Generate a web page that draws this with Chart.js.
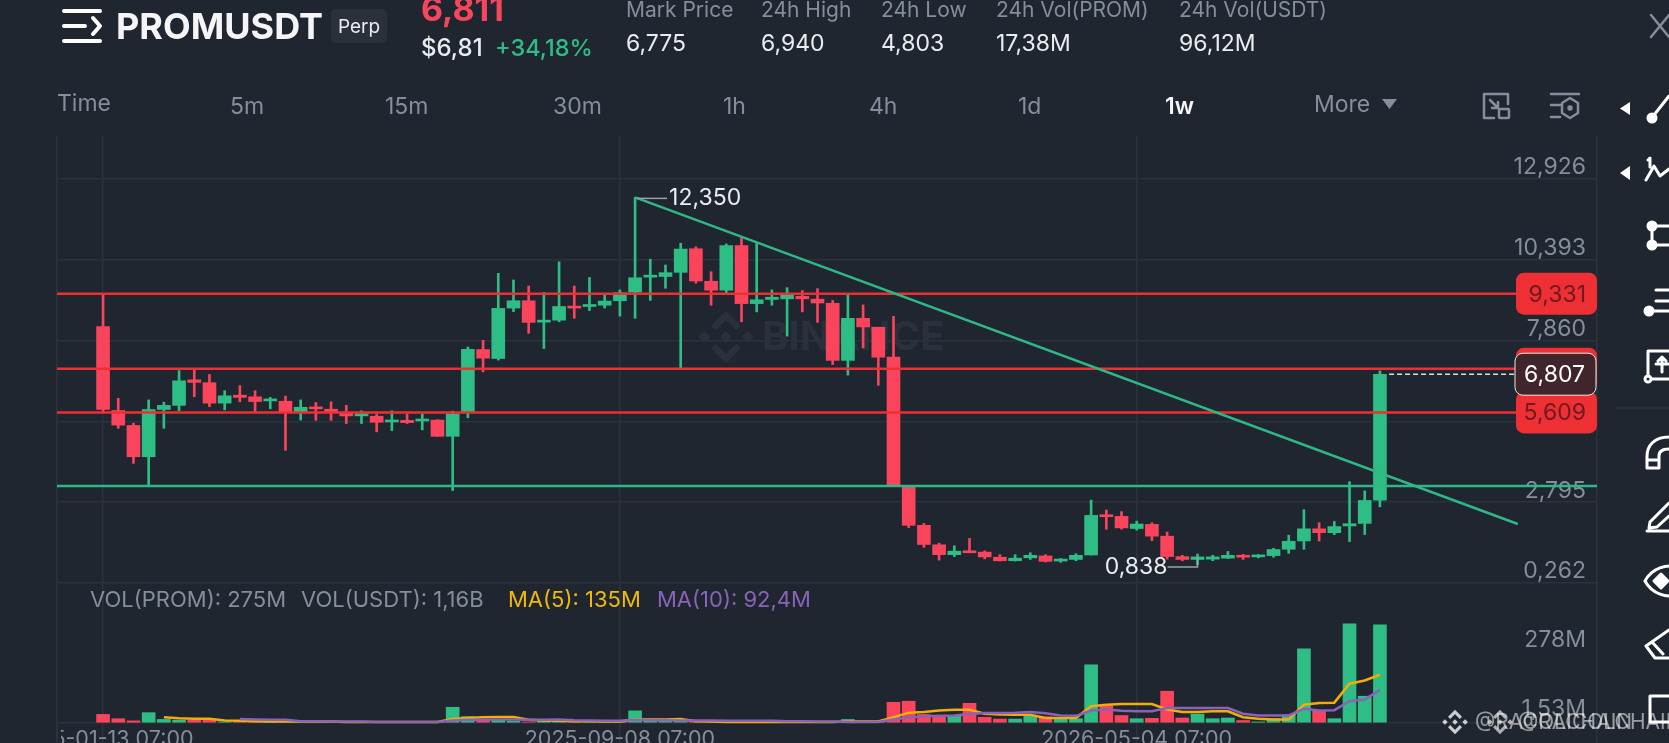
<!DOCTYPE html>
<html>
<head>
<meta charset="utf-8">
<title>PROMUSDT</title>
<script src="https://cdn.jsdelivr.net/npm/chart.js@4"></script>
<style>
  html, body { margin: 0; padding: 0; background: #1f2630; overflow: hidden; }
  #wrap { position: relative; width: 1669px; height: 743px; overflow: hidden; font-family: Inter, sans-serif; }
  #myChart { position: absolute; left: 0; top: 0; }
  #leftMask { position: absolute; left: 0; top: 726px; width: 61px; height: 17px; background: #1f2630; }
  #leftEdge { position: absolute; left: 56px; top: 726px; width: 2px; height: 17px; background: #2b323d; }
  #icons { position: absolute; left: 0; top: 0; }
  .t { position: absolute; transform: translateY(-50%); white-space: nowrap; font-size: 21px; line-height: 1; color: #848e9c; }
  .w { color: #eaecef; font-size: 23px; }
  .tab { font-size: 23px; }
  .vol { font-size: 22px; }
</style>
</head>
<body>
<div id="wrap">
  <canvas id="myChart" width="1669" height="770"></canvas>
  <div id="leftMask"></div>
  <div id="leftEdge"></div>

  <span class="t" style="left:116px;top:26px;font-size:36px;font-weight:700;color:#f5f5f5">PROMUSDT</span>
  <div style="position:absolute;left:331px;top:9px;width:56px;height:34px;border-radius:5px;background:#2a313b"></div>
  <span class="t w" style="left:338px;top:26px;font-size:19px">Perp</span>
  <span class="t" style="left:421px;top:9px;font-size:34px;font-weight:700;color:#f6465d">6,811</span>
  <span class="t w" style="left:421px;top:48px;font-size:24px;font-weight:500">$6,81</span>
  <span class="t" style="left:495px;top:48px;font-size:23.5px;font-weight:500;color:#2ebd85">+34,18%</span>
  <span class="t" style="left:626px;top:9px">Mark Price</span>
  <span class="t w" style="left:626px;top:43px">6,775</span>
  <span class="t" style="left:761px;top:9px">24h High</span>
  <span class="t w" style="left:761px;top:43px">6,940</span>
  <span class="t" style="left:881px;top:9px">24h Low</span>
  <span class="t w" style="left:881px;top:43px">4,803</span>
  <span class="t" style="left:996px;top:9px">24h Vol(PROM)</span>
  <span class="t w" style="left:996px;top:43px">17,38M</span>
  <span class="t" style="left:1179px;top:9px">24h Vol(USDT)</span>
  <span class="t w" style="left:1179px;top:43px">96,12M</span>

  <span class="t tab" style="left:57px;top:103px">Time</span>
  <span class="t tab" style="left:230px;top:106px">5m</span>
  <span class="t tab" style="left:385px;top:106px">15m</span>
  <span class="t tab" style="left:553px;top:106px">30m</span>
  <span class="t tab" style="left:723px;top:106px">1h</span>
  <span class="t tab" style="left:869px;top:106px">4h</span>
  <span class="t tab" style="left:1018px;top:106px">1d</span>
  <span class="t tab" style="left:1165px;top:106px;font-weight:600;color:#f5f5f5">1w</span>
  <span class="t tab" style="left:1314px;top:104px">More</span>

  <span class="t vol" style="left:90px;top:599px">VOL(PROM): 275M</span>
  <span class="t vol" style="left:301px;top:599px">VOL(USDT): 1,16B</span>
  <span class="t vol" style="left:508px;top:599px;color:#f0b90b">MA(5): 135M</span>
  <span class="t vol" style="left:657px;top:599px;color:#8a63b8">MA(10): 92,4M</span>

  <svg id="icons" width="1669" height="743" fill="none" stroke-linecap="round" stroke-linejoin="round">
    <g stroke="#ffffff" stroke-width="4">
      <path d="M64 11H100M64 26H85M64 41H100M93 18l7 8-7 8"/>
    </g>
    <path d="M1651 15l18 22M1669 15l-18 22" stroke="#848e9c" stroke-width="2.5"/>
    <polygon points="1382,99 1397,99 1389.5,109" fill="#848e9c"/>
    <g stroke="#848e9c" stroke-width="2.5">
      <path d="M1508 104V94H1484V118H1494M1490 100l8 8M1498 102v6h-6"/>
      <rect x="1499" y="109" width="10" height="9" rx="1"/>
      <path d="M1551 94H1579M1551 105H1560M1551 117H1560"/>
      <path d="M1570 98l8 5v10l-8 5-8-5v-10z"/>
      <circle cx="1570" cy="108" r="1.5" fill="#848e9c"/>
    </g>
    <polygon points="1630,102 1620,108.5 1630,115" fill="#ffffff"/>
    <polygon points="1630,166 1620,173 1630,180" fill="#ffffff"/>
    <path d="M1616 408H1669" stroke="#2b3139" stroke-width="2"/>
    <g stroke="#ffffff" stroke-width="3">
      <circle cx="1652" cy="118" r="4" fill="#ffffff"/><path d="M1654 115L1669 96"/>
      <path d="M1648 160l2-2v9M1646 180l8-14 6 10 9-7"/>
      <circle cx="1652" cy="226" r="4" fill="#ffffff"/><circle cx="1652" cy="245" r="4" fill="#ffffff"/>
      <path d="M1652 226v19M1656 226H1669M1656 245H1669"/>
      <path d="M1656 290H1669M1656 301H1669M1653 311H1669"/><circle cx="1649" cy="311" r="4" fill="#ffffff"/>
      <path d="M1669 351H1648V376M1656 364H1669M1662 372V357l-4 4M1662 357l4 4M1652 379H1669"/><circle cx="1648" cy="379" r="3"/>
      <path d="M1669 437C1654 437 1647 446 1647 456V468H1659V456C1659 451 1663 449 1669 449M1647 460H1659"/>
      <path d="M1647 531H1669M1650 522l19-19M1650 522l-1 6 8-1 12-11"/>
      <path d="M1645 581C1653 566 1669 566 1669 566M1645 581C1653 596 1669 596 1669 596"/>
      <path d="M1661 574l7 7-7 7-7-7z" fill="#ffffff"/>
      <path d="M1669 630L1646 646l9 12H1669M1652 642l11 12"/>
      <path d="M1669 696H1650V722H1669"/>
    </g>
  </svg>
</div>

<script>
// weekly candles
const indexes = [];
for (let i = 0; i < 85; i++) indexes.push(i);

const opens = [8.30,5.67,5.20,4.22,5.70,5.83,6.63,6.54,5.90,6.15,6.10,5.97,5.96,5.60,5.78,5.71,5.60,5.50,5.49,5.31,5.36,5.34,5.37,
  4.86,5.60,7.58,7.30,8.88,9.11,8.44,8.50,8.93,8.93,8.97,9.11,9.38,9.85,9.87,10.00,10.74,9.72,9.44,10.84,9.02,9.15,9.17,
  9.25,9.16,9.03,7.24,8.56,8.28,7.34,3.30,2.07,1.46,1.15,1.26,1.23,1.07,0.96,1.05,1.11,0.95,1.00,1.14,2.38,2.35,1.97,2.10,
  1.73,1.09,1.00,1.01,1.04,1.13,1.08,1.12,1.32,1.58,1.96,1.84,2.05,2.13,2.86];
const closes = [5.70,5.21,4.22,5.70,5.83,6.60,6.55,5.90,6.13,6.08,5.95,6.02,5.60,5.77,5.72,5.60,5.50,5.57,5.30,5.36,5.29,5.40,4.86,
  5.56,7.59,7.31,8.87,9.11,8.43,8.50,8.93,8.88,8.97,9.10,9.36,9.83,9.91,9.99,10.73,9.73,9.44,10.84,9.02,9.14,9.22,9.28,
  9.17,9.04,7.24,8.56,8.29,7.34,3.31,2.07,1.47,1.15,1.26,1.21,1.08,0.96,1.04,1.13,0.94,0.99,1.13,2.38,2.34,1.99,2.11,1.73,
  1.09,1.00,1.08,1.08,1.13,1.07,1.12,1.31,1.57,1.96,1.84,2.03,2.12,2.85,6.807];
const highs = [9.31,6.05,5.27,6.00,5.93,6.92,6.94,6.80,6.29,6.45,6.29,6.08,6.12,6.00,5.92,5.94,5.83,5.66,5.56,5.66,5.56,5.56,5.38,
  5.65,7.66,7.87,9.97,9.76,9.57,9.37,10.33,9.57,9.84,9.34,9.45,12.35,10.41,10.23,10.91,10.80,10.02,10.89,11.08,10.93,9.45,9.52,
  9.43,9.49,9.12,9.29,8.98,8.28,8.62,3.31,2.13,1.51,1.43,1.66,1.27,1.15,1.15,1.21,1.15,1.03,1.18,2.86,2.55,2.50,2.20,2.15,
  1.86,1.13,1.17,1.13,1.25,1.16,1.15,1.35,1.76,2.56,2.15,2.19,3.44,3.15,6.91];
const lows = [5.60,5.11,4.01,3.31,5.11,5.66,6.10,5.79,5.69,5.94,5.60,5.72,4.42,5.37,5.36,5.36,5.26,5.26,5.00,5.04,5.26,5.06,4.86,
  3.16,5.44,6.88,7.25,8.77,8.09,7.61,8.45,8.56,8.80,8.88,8.63,8.56,9.12,9.50,7.01,9.66,8.97,9.36,8.45,8.76,8.97,8.00,
  8.76,8.43,7.11,6.78,7.63,6.46,3.30,2.00,1.38,0.98,1.09,1.21,1.02,0.95,0.95,1.00,0.92,0.91,0.96,1.14,1.95,1.95,1.92,1.59,
  1.01,0.96,0.838,0.96,1.03,1.00,1.05,1.07,1.19,1.32,1.58,1.78,1.56,1.78,2.65];

// volume in millions
const volumes = [24,12,6,29,10,8,8,8,3,3,3,2,10,3,3,2,2,2,2,2,2,2,3,44,18,10,10,5,3,6,6,3,3,3,3,34,5,5,6,5,3,3,3,3,3,3,3,3,4,10,
  3,4,58,61,24,17,20,55,16,11,11,21,17,12,12,163,49,21,12,13,89,14,25,12,14,7,3,12,23,208,35,12,278,75,275];
const ma5 = [null,null,null,null,16,13,12,12,7,6,5,4,4,4,4,4,3,3,3,3,3,3,3,11,14,16,17,17,9,7,6,5,5,4,4,10,10,10,11,5,4,3,3,3,3,3,3,3,3,4,
  4,4,16,29,31,35,37,37,26,24,23,23,14,14,14,47,51,53,53,53,38,31,31,33,33,16,12,10,10,51,56,57,110,119,135];
const ma10 = [null,null,null,null,null,null,null,null,null,11,10,9,9,5,5,4,4,4,3,3,3,3,3,7,9,9,10,10,9,9,10,8,7,6,6,9,8,8,7,7,7,6,6,6,6,5,5,4,4,3,
  3,3,10,16,18,20,21,25,28,28,29,31,27,21,20,35,38,34,33,33,42,42,42,42,42,26,21,21,21,40,35,36,61,66,92];

const priceTicks = [12.926, 10.393, 7.860, 5.327, 2.795, 0.262];
const volTicks = [278, 1.53];
const volTickLabels = ['278M', '1,53M'];
const dateTicks = [0, 34, 68];
const dateLabels = ['2025-01-13 07:00', '2025-09-08 07:00', '2026-05-04 07:00'];

const redLevels = [9.331, 6.979, 5.609];
const greenLevel = 3.30;
const lastPrice = 6.807;
const trendX = [35, 93.07];
const trendY = [12.35, 2.11];

const xMin = -3.03, xMax = 98.28;
const UP = '#2ebd85', DOWN = '#fa445c', LEVEL = '#ee2f33', GRID = '#2b323d', TEXT = '#848e9c';
const FONT = 'Inter, sans-serif';

const candleColor = indexes.map(i => closes[i] >= opens[i] ? UP : DOWN);

function bars(label, axis, rows, thickness, order, minLen) {
  return {
    type: 'bar', label, yAxisID: axis, data: rows, order,
    backgroundColor: candleColor, barThickness: thickness, grouped: false, minBarLength: minLen || 0
  };
}
function line(label, axis, rows, color, width, order, dash) {
  return {
    type: 'line', label, yAxisID: axis, data: rows, order,
    borderColor: color, borderWidth: width, pointRadius: 0, borderDash: dash || [], tension: 0
  };
}
function flat(y, x0, x1) {
  return [{ x: x0, y }, { x: x1, y }];
}

const datasets = [
  bars('wick', 'y', indexes.map(i => ({ x: i, y: [lows[i], highs[i]] })), 2, 5),
  bars('body', 'y', indexes.map(i => ({ x: i, y: [opens[i], closes[i]] })), 13, 4, 2),
  bars('volume', 'yVol', indexes.map(i => ({ x: i, y: volumes[i] })), 13, 4),
  line('MA5', 'yVol', indexes.map(i => ({ x: i, y: ma5[i] })), '#f0ad0b', 2.5, 2),
  line('MA10', 'yVol', indexes.map(i => ({ x: i, y: ma10[i] })), '#8a63b8', 2.5, 1),
  line('trend', 'y', trendX.map((x, k) => ({ x, y: trendY[k] })), '#2fb885', 2.5, 0),
  line('support', 'y', flat(greenLevel, xMin, xMax), '#2fb885', 2.5, 0),
  line('last', 'y', flat(lastPrice, 84.6, 93.5), '#d8dce2', 1.5, 0, [5, 3])
];
redLevels.forEach(v => datasets.push(line('level', 'y', flat(v, xMin, xMax), LEVEL, 2.5, 0)));

function binanceMark(ctx, x, y, s, color) {
  const d = (cx, cy, r) => {
    ctx.beginPath();
    ctx.moveTo(cx, cy - r); ctx.lineTo(cx + r, cy); ctx.lineTo(cx, cy + r); ctx.lineTo(cx - r, cy);
    ctx.closePath(); ctx.fill();
  };
  ctx.fillStyle = color;
  d(x, y, s * 0.2); d(x - s * 0.72, y, s * 0.2); d(x + s * 0.72, y, s * 0.2);
  ctx.strokeStyle = color; ctx.lineWidth = s * 0.22;
  ctx.beginPath(); ctx.moveTo(x - s * 0.42, y - s * 0.3); ctx.lineTo(x, y - s * 0.72); ctx.lineTo(x + s * 0.42, y - s * 0.3); ctx.stroke();
  ctx.beginPath(); ctx.moveTo(x - s * 0.42, y + s * 0.3); ctx.lineTo(x, y + s * 0.72); ctx.lineTo(x + s * 0.42, y + s * 0.3); ctx.stroke();
}

const watermark = {
  id: 'watermark',
  beforeDatasetsDraw(chart) {
    const ctx = chart.ctx;
    ctx.save();
    binanceMark(ctx, 726, 337, 30, '#2a313c');
    ctx.fillStyle = '#2a313c';
    ctx.font = '700 40px ' + FONT;
    ctx.textAlign = 'left';
    ctx.textBaseline = 'middle';
    ctx.fillText('BINANCE', 762, 338);
    ctx.restore();
  }
};

function tag(ctx, right, y, text, fill, color, stroke) {
  ctx.beginPath();
  ctx.roundRect(right - 81, y - 21, 81, 42, 8);
  ctx.fillStyle = fill;
  ctx.fill();
  if (stroke) {
    ctx.strokeStyle = stroke;
    ctx.lineWidth = 1;
    ctx.stroke();
  }
  ctx.fillStyle = color;
  ctx.font = '23px ' + FONT;
  ctx.textAlign = 'right';
  ctx.textBaseline = 'middle';
  ctx.fillText(text, right - 11, y + 1);
}

const overlay = {
  id: 'overlay',
  afterDraw(chart) {
    const ctx = chart.ctx;
    const { x, y, yVol } = chart.scales;
    const right = chart.chartArea.right;
    ctx.save();

    // price tags on the axis
    redLevels.forEach(v => tag(ctx, right, y.getPixelForValue(v), v.toFixed(3).replace('.', ','), LEVEL, '#6e1a20'));
    tag(ctx, right - 1, y.getPixelForValue(lastPrice), lastPrice.toFixed(3).replace('.', ','), '#40252b', '#ffffff', '#e8e8e8');

    // volume axis labels sit off their levels
    ctx.fillStyle = TEXT;
    ctx.font = '23px ' + FONT;
    ctx.textAlign = 'right';
    ctx.textBaseline = 'middle';
    ctx.fillText(volTickLabels[0], right - 11, yVol.getPixelForValue(volTicks[0]) + 16);
    ctx.fillText(volTickLabels[1], right - 11, yVol.getPixelForValue(volTicks[1]) - 13);

    // high and low markers
    const hx = x.getPixelForValue(35), hy = y.getPixelForValue(12.35);
    ctx.strokeStyle = '#9aa1ab';
    ctx.lineWidth = 1.5;
    ctx.beginPath(); ctx.moveTo(hx + 2, hy + 1); ctx.lineTo(hx + 32, hy + 1); ctx.stroke();
    ctx.fillStyle = '#eaecef';
    ctx.textAlign = 'left';
    ctx.fillText('12,350', hx + 34, hy + 1);

    const lx = x.getPixelForValue(72), ly = y.getPixelForValue(1.08);
    ctx.beginPath(); ctx.moveTo(lx, ly); ctx.lineTo(lx, ly + 10); ctx.lineTo(lx - 30, ly + 10); ctx.stroke();
    ctx.textAlign = 'right';
    ctx.fillText('0,838', lx - 30, ly + 10);

    // user watermark
    binanceMark(ctx, 1455, 722, 14, 'rgba(235,235,235,0.85)');
    binanceMark(ctx, 1500, 722, 14, 'rgba(235,235,235,0.7)');
    ctx.textAlign = 'left';
    ctx.font = '21px ' + FONT;
    ctx.fillStyle = 'rgba(235,235,235,0.6)';
    ctx.fillText('@RACOLCHAIN', 1475, 723);
    ctx.fillText('@RAICOLCHAIN', 1518, 723);
    ctx.restore();
  }
};

function flatAxis(scale) {
  scale.width = 0;
  scale.paddingTop = 0;
  scale.paddingBottom = 0;
}

new Chart(document.getElementById('myChart'), {
  data: { datasets },
  options: {
    responsive: false,
    animation: false,
    layout: { padding: { left: 57, top: 136, right: 72, bottom: 0 } },
    plugins: { legend: { display: false }, tooltip: { enabled: false } },
    scales: {
      x: {
        type: 'linear', min: xMin, max: xMax, offset: false,
        afterBuildTicks(scale) {
          scale.ticks = [xMin].concat(dateTicks, [xMax]).map(value => ({ value }));
        },
        afterFit(scale) { scale.height = 0; },
        grid: { color: GRID, lineWidth: 1.5, drawTicks: false, offset: false },
        border: { display: false },
        ticks: {
          mirror: true, padding: 18, maxRotation: 0, autoSkip: false, color: TEXT,
          font: { family: FONT, size: 21.5 },
          callback: value => dateLabels[dateTicks.indexOf(value)] || ''
        }
      },
      y: {
        type: 'linear', position: 'right', stack: 'panes', stackWeight: 447, weight: 1,
        min: 0.262, max: 14.274,
        afterBuildTicks(scale) {
          scale.ticks = priceTicks.map(value => ({ value }));
        },
        afterFit: flatAxis,
        grid: { color: GRID, lineWidth: 1.5, drawTicks: false },
        border: { display: false },
        ticks: {
          mirror: true, align: 'end', padding: -11, color: TEXT,
          font: { family: FONT, size: 23 },
          callback: value => value.toFixed(3).replace('.', ',')
        }
      },
      yVol: {
        type: 'linear', position: 'right', stack: 'panes', stackWeight: 187, weight: 2,
        min: -131.6, max: 392,
        afterBuildTicks(scale) {
          scale.ticks = [{ value: 0 }];
        },
        afterFit: flatAxis,
        grid: { color: GRID, lineWidth: 1.5, drawTicks: false },
        border: { display: false },
        ticks: { display: false }
      }
    }
  },
  plugins: [watermark, overlay]
});
</script>
</body>
</html>
